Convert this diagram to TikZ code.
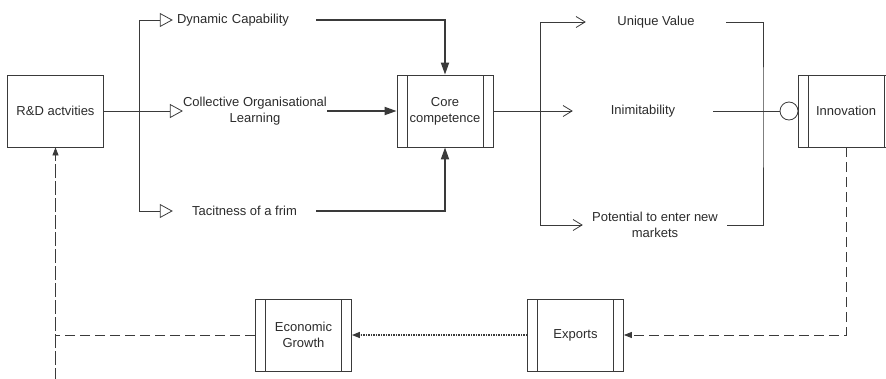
\documentclass[tikz,border=0pt]{standalone}
\usepackage{fontspec}
\setmainfont{Liberation Sans}
\usetikzlibrary{positioning,arrows.meta}
\definecolor{linie}{HTML}{3A3A3A}
\definecolor{schrift}{HTML}{2B2B2B}
\tikzset{
    %Define style for boxes
    kasten/.style={
           rectangle,
           draw=linie, line width=0.8pt,
           minimum width=96pt,
           minimum height=72pt,
           align=center,
           text=schrift},
    %Define style for boxes with side bars
    balken/.style={
           kasten,
           path picture={
             \draw[linie, line width=0.8pt]
               ([xshift=10pt]path picture bounding box.north west) -- ([xshift=10pt]path picture bounding box.south west)
               ([xshift=-10pt]path picture bounding box.north east) -- ([xshift=-10pt]path picture bounding box.south east);}},
    %Define style for labels
    merkmal/.style={
           text=schrift,
           align=center,
           inner sep=2pt},
    % Define arrow styles
    offen/.style={
           -{Triangle[open,length=13pt,width=14pt]},
           line width=0.8pt},
    spitz/.style={
           -{Straight Barb[length=9pt,width=11pt]},
           line width=0.8pt},
    dick/.style={
           -{Triangle[length=12pt,width=8pt]},
           line width=1.8pt},
    strich/.style={
           line width=0.8pt,
           dash pattern=on 10pt off 5pt},
    punkte/.style={
           line width=1.2pt,
           dash pattern=on 1.2pt off 1.3pt},
    klein/.style={
           -{Triangle[length=8pt,width=6pt]}}
}

\begin{document}
\begin{tikzpicture}[x=1pt,y=-1pt,color=linie,font=\fontsize{13}{16}\selectfont]
\useasboundingbox (0,0) rectangle (886,378);
% boxes
\node [kasten] (rd) at (55.5,111) {R\&D actvities};
\node [balken] (core) at (445,111) {Core\\competence};
\node [balken] (inno) at (846,111) {Innovation};
\node [balken] (exp) at (575.5,335) {Exports};
\node [balken] (eco) at (303.5,335) {Economic\\Growth};
% labels
\node [merkmal,text width=135pt,align=left,inner sep=4pt] (dyn) at (244.5,20) {Dynamic Capability};
\node [merkmal,inner sep=0pt] (coll) at (255,111) {Collective Organisational\\Learning};
\node [merkmal,minimum width=143pt] (tac) at (244.5,211) {Tacitness of a frim};
\node [merkmal,minimum width=140pt] (uv) at (656,22) {Unique Value};
\node [merkmal,minimum width=140pt] (inim) at (643,111) {Inimitability};
\node [merkmal,minimum width=144pt] (pot) at (655,225) {Potential to enter new\\markets};
\node [circle,draw,line width=0.8pt,minimum size=18pt,inner sep=0pt] (kreis) at (789,111) {};
\coordinate (lv) at (139,111);
\coordinate (rv) at (540,111);
\coordinate (klammer) at (763,111);
\coordinate (unten) at (55.5,382);
% connectors
\draw [offen] (rd.east) -- (coll.west);
\draw [offen] (lv) |- (dyn.west);
\draw [offen] (lv) |- (tac.west);
\draw [dick] (dyn.east) -| (core.north);
\draw [dick] (coll.east) -- (core.west);
\draw [dick] (tac.east) -| (core.south);
\draw [spitz] (core.east) -- (inim.west);
\draw [spitz] (rv) |- (uv.west);
\draw [spitz] (rv) |- (pot.west);
\draw [line width=0.8pt] (uv.east) -| (klammer) |- (pot.east);
\draw [line width=0.8pt] (inim.east) -- (kreis.west);
\draw [strich,klein] (inno.south) |- (exp.east);
\draw [punkte,klein] (exp.west) -- (eco.east);
\draw [strich] (eco.west) -- (eco.west -| rd.south);
\draw [strich,klein,dash pattern=on 14pt off 3pt] (unten) -- (rd.south);
\end{tikzpicture}
\end{document}
